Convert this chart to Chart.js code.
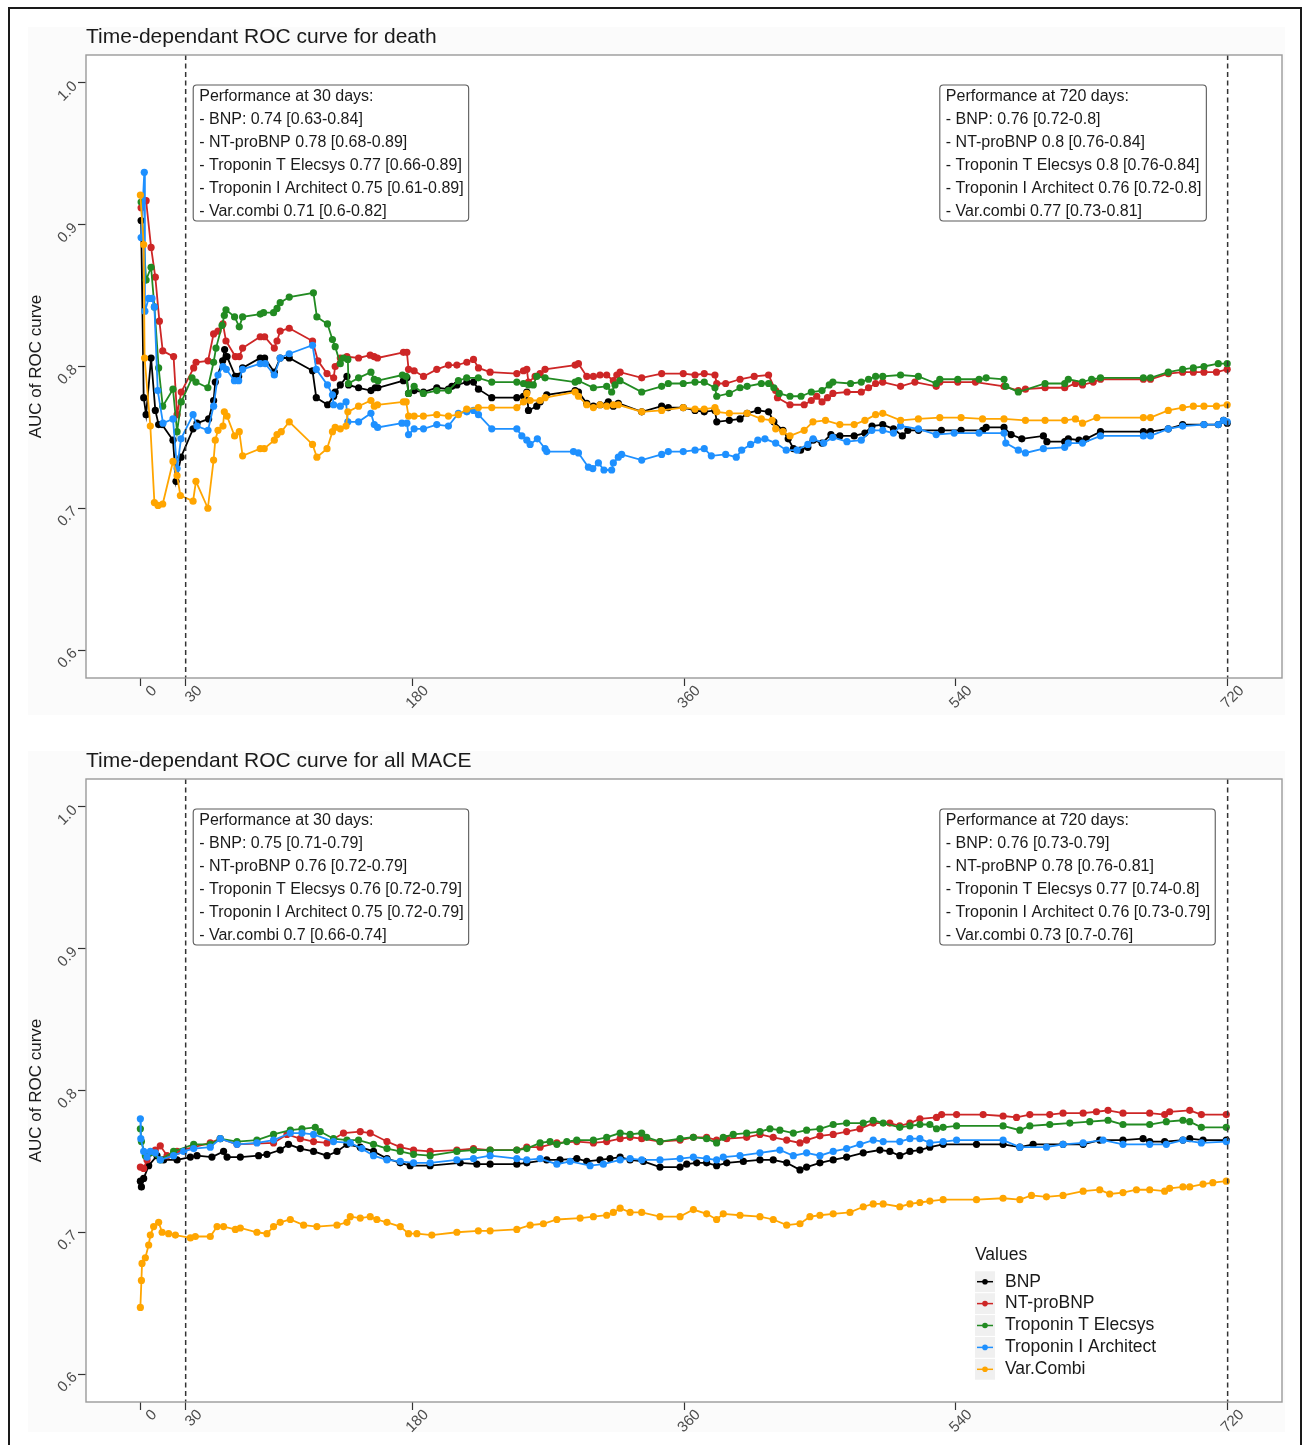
<!DOCTYPE html>
<html><head><meta charset="utf-8">
<script src="https://cdn.jsdelivr.net/npm/chart.js@4.4.1/dist/chart.umd.min.js"></script>
<style>
html,body{margin:0;padding:0;background:#fff;}
body{width:1303px;height:1445px;position:relative;overflow:hidden;font-family:"Liberation Sans",Arial,sans-serif;}
.frame{position:absolute;left:8px;top:7px;width:1294px;height:1470px;border:2px solid #1a1a1a;box-sizing:border-box;}
.bg{position:absolute;left:28px;width:1257px;background:#fbfbfb;}
.wrap{position:absolute;left:0;width:1303px;height:720px;}
canvas{display:block;}
</style></head><body>
<div class="frame"></div>
<div class="bg" style="top:27px;height:688px"></div>
<div class="bg" style="top:751px;height:681px"></div>
<div class="wrap" style="top:0"><canvas id="c1" width="1303" height="720"></canvas></div>
<div class="wrap" style="top:724px"><canvas id="c2" width="1303" height="720"></canvas></div>
<script>
const seriesNames = ["BNP","NT-proBNP","Troponin T Elecsys","Troponin I Architect","Var.Combi"];
const seriesColors = ["#000000","#cd2626","#228b22","#1e90ff","#ffa500"];
const xTickDays = [0,30,180,360,540,720];
const yTickAUC = [0.6,0.7,0.8,0.9,1.0];
const markerDays = [30,720];
const legendTitle = "Values";
const yAxisTitle = "AUC of ROC curve";
const deathTitle = "Time-dependant ROC curve for death";
const maceTitle = "Time-dependant ROC curve for all MACE";

const deathNote30 = ["Performance at 30 days:","- BNP: 0.74 [0.63-0.84]","- NT-proBNP 0.78 [0.68-0.89]","- Troponin T Elecsys 0.77 [0.66-0.89]","- Troponin I Architect 0.75 [0.61-0.89]","- Var.combi 0.71 [0.6-0.82]"];
const deathNote720 = ["Performance at 720 days:","- BNP: 0.76 [0.72-0.8]","- NT-proBNP 0.8 [0.76-0.84]","- Troponin T Elecsys 0.8 [0.76-0.84]","- Troponin I Architect 0.76 [0.72-0.8]","- Var.combi 0.77 [0.73-0.81]"];
const maceNote30 = ["Performance at 30 days:","- BNP: 0.75 [0.71-0.79]","- NT-proBNP 0.76 [0.72-0.79]","- Troponin T Elecsys 0.76 [0.72-0.79]","- Troponin I Architect 0.75 [0.72-0.79]","- Var.combi 0.7 [0.66-0.74]"];
const maceNote720 = ["Performance at 720 days:","- BNP: 0.76 [0.73-0.79]","- NT-proBNP 0.78 [0.76-0.81]","- Troponin T Elecsys 0.77 [0.74-0.8]","- Troponin I Architect 0.76 [0.73-0.79]","- Var.combi 0.73 [0.7-0.76]"];
const noteDays = [35,529.4];

// [day, AUC]
const deathBNP = [[0.5,0.903],[2.2,0.778],[3.8,0.766],[7.1,0.806],[9.9,0.769],[12.1,0.759],[14.4,0.759],[21.6,0.748],[23.6,0.719],[26.9,0.736],[34.9,0.756],[37.5,0.760],[45.2,0.763],[48.5,0.776],[49.6,0.789],[54.5,0.804],[55.8,0.812],[57.4,0.807],[62.9,0.793],[65.1,0.793],[67.7,0.799],[79.4,0.806],[82.3,0.806],[88.7,0.796],[92.6,0.806],[98.6,0.806],[114,0.797],[116.5,0.778],[124,0.773],[128,0.779],[129,0.782],[132.4,0.787],[136.8,0.793],[137.9,0.787],[144.5,0.785],[152.7,0.783],[155.5,0.785],[157.3,0.785],[174.2,0.790],[176.5,0.792],[177.6,0.781],[181.3,0.783],[187.5,0.782],[196.3,0.785],[204,0.784],[206.3,0.786],[209.6,0.787],[216.2,0.789],[220.6,0.789],[223.9,0.784],[232.7,0.778],[249.3,0.778],[253.7,0.779],[255.9,0.782],[257,0.769],[262.5,0.772],[264.7,0.775],[269.1,0.780],[287.9,0.783],[290.1,0.782],[295.6,0.774],[300,0.772],[304.4,0.773],[308.8,0.773],[309.9,0.775],[313.2,0.772],[316.5,0.774],[332,0.768],[345.2,0.772],[349.6,0.771],[359.5,0.771],[367.3,0.769],[373.4,0.768],[380.5,0.769],[381.7,0.761],[390,0.762],[397.1,0.763],[401.8,0.767],[408.9,0.769],[416,0.768],[419.5,0.761],[425.5,0.755],[429,0.749],[432.5,0.742],[437.2,0.741],[442,0.743],[445.5,0.748],[451.4,0.746],[457.3,0.752],[463.2,0.751],[472.7,0.751],[479.8,0.753],[484.5,0.758],[491.6,0.759],[498.7,0.756],[504.6,0.751],[508.2,0.755],[515.3,0.755],[530.5,0.755],[543.5,0.755],[557.8,0.755],[560.1,0.757],[571.9,0.757],[576.6,0.752],[583.7,0.749],[598,0.751],[600.3,0.747],[612.1,0.747],[614.5,0.749],[621.6,0.748],[626.3,0.749],[635.8,0.754],[664.2,0.754],[668.9,0.754],[680.7,0.756],[690.2,0.759],[704.3,0.759],[713.8,0.759],[717.3,0.762],[719.7,0.760]];
const deathNTproBNP = [[0.5,0.912],[3.8,0.917],[7.1,0.884],[9.9,0.863],[12.6,0.832],[14.8,0.811],[22,0.807],[24.3,0.766],[27.1,0.782],[35.3,0.799],[36.9,0.803],[44.8,0.804],[48.5,0.823],[51.4,0.825],[54.7,0.830],[56.7,0.818],[62.9,0.807],[65.5,0.807],[67.7,0.813],[79.4,0.821],[82.3,0.821],[88.7,0.813],[90.5,0.818],[92.6,0.825],[98.6,0.827],[114,0.818],[117.6,0.804],[123.6,0.795],[128,0.792],[129,0.800],[132.4,0.806],[136.8,0.807],[144.5,0.806],[152.2,0.808],[154.8,0.807],[157,0.806],[174.2,0.810],[176.5,0.810],[177.6,0.798],[181.3,0.797],[187.5,0.793],[196.3,0.798],[204,0.801],[209.6,0.801],[216.2,0.803],[220.6,0.805],[223.9,0.799],[231.6,0.796],[249.3,0.795],[253.7,0.797],[255.9,0.798],[257,0.789],[261.4,0.793],[264.7,0.795],[268,0.798],[287.9,0.801],[290.1,0.802],[295.6,0.793],[300,0.793],[304.4,0.794],[308.8,0.794],[313.2,0.790],[315.5,0.794],[317.7,0.796],[332,0.792],[345.2,0.795],[359.5,0.795],[367.3,0.794],[373.4,0.795],[380.5,0.794],[381.7,0.788],[387.6,0.788],[397.1,0.791],[406.5,0.793],[416,0.794],[420.7,0.783],[421.9,0.778],[430.2,0.773],[439.6,0.773],[444.3,0.776],[447.9,0.779],[451.4,0.775],[455,0.778],[458.6,0.781],[468,0.782],[477.4,0.782],[482.2,0.785],[486.9,0.788],[491.6,0.789],[503.4,0.786],[512.9,0.789],[527,0.786],[529.4,0.789],[541.3,0.789],[553,0.789],[571.9,0.786],[581.4,0.783],[586.1,0.784],[599.1,0.785],[612.1,0.785],[619.2,0.788],[623.9,0.787],[631,0.789],[635.8,0.791],[664.2,0.791],[668.9,0.791],[680.7,0.795],[690.2,0.796],[697.3,0.796],[704.3,0.796],[712.6,0.796],[719.7,0.798]];
const deathTnT = [[0.5,0.916],[3.8,0.861],[7.1,0.870],[9.3,0.842],[12.1,0.799],[14.8,0.772],[21.6,0.784],[24.3,0.754],[27.1,0.775],[34.2,0.792],[36.8,0.789],[44.7,0.785],[48.5,0.803],[50.1,0.813],[54.1,0.829],[55.6,0.836],[56.7,0.840],[62.4,0.835],[65.5,0.828],[67.7,0.835],[79.4,0.837],[81.6,0.838],[88.2,0.838],[90.5,0.841],[92.6,0.845],[98.6,0.849],[114.6,0.852],[116.9,0.835],[123.9,0.830],[127.2,0.819],[129,0.814],[132.4,0.802],[134.5,0.806],[137.4,0.805],[137.8,0.788],[144.5,0.792],[152.7,0.796],[154.9,0.791],[157.3,0.790],[173.5,0.794],[176,0.793],[177.6,0.781],[181.3,0.786],[187.4,0.781],[196.3,0.783],[204,0.783],[210.6,0.790],[216.1,0.792],[223.8,0.792],[232.7,0.789],[249.3,0.789],[253.7,0.788],[257,0.787],[260.2,0.787],[262.5,0.793],[268,0.792],[287.9,0.789],[290.1,0.790],[300,0.785],[308.8,0.786],[312.1,0.782],[314.3,0.787],[317.6,0.790],[332,0.782],[345.2,0.786],[349.6,0.788],[359.5,0.788],[367.3,0.789],[373.4,0.789],[380.5,0.785],[381.7,0.779],[390,0.781],[397.1,0.785],[401.8,0.786],[411.2,0.788],[416,0.788],[419.5,0.785],[423.1,0.781],[430.2,0.779],[437.5,0.779],[444.3,0.782],[451.4,0.783],[456.2,0.787],[458.6,0.789],[470.3,0.788],[477.4,0.789],[482.2,0.791],[486.9,0.793],[491.6,0.793],[503.4,0.794],[515.2,0.793],[527,0.788],[529.4,0.791],[541.3,0.791],[555.4,0.791],[560.1,0.792],[571.9,0.791],[573.1,0.786],[581.4,0.782],[599.1,0.788],[612.1,0.788],[614.5,0.791],[623.9,0.789],[629.9,0.791],[635.8,0.792],[664.2,0.792],[668.9,0.792],[680.7,0.796],[690.2,0.798],[697.3,0.799],[704.3,0.800],[713.8,0.802],[719.7,0.802]];
const deathTnI = [[0.5,0.891],[2.6,0.937],[3,0.839],[5.5,0.848],[7.7,0.848],[9.3,0.842],[11.5,0.783],[15,0.760],[21.6,0.763],[24.3,0.728],[26.9,0.749],[34.9,0.766],[37.5,0.758],[44.8,0.755],[48.5,0.772],[51.4,0.794],[54.7,0.800],[56.9,0.798],[62.3,0.790],[65.1,0.790],[67.7,0.798],[79.4,0.802],[82.7,0.802],[88.7,0.794],[92.6,0.806],[98.6,0.809],[114,0.815],[116.5,0.798],[123.9,0.787],[127.2,0.780],[128,0.773],[132.4,0.772],[136.2,0.775],[137.4,0.761],[144.5,0.761],[152.7,0.767],[154.9,0.759],[157.1,0.757],[173.2,0.760],[176.5,0.760],[177.6,0.752],[181.3,0.756],[187.5,0.756],[196.3,0.759],[204,0.758],[210.6,0.767],[216.2,0.768],[220.6,0.769],[223.9,0.766],[232.7,0.756],[249.3,0.756],[252.6,0.751],[255.9,0.748],[258.1,0.745],[262.9,0.749],[268,0.742],[269.1,0.740],[286.8,0.740],[290.1,0.739],[296.7,0.729],[299.6,0.728],[303.3,0.732],[307,0.727],[312.1,0.727],[313.2,0.732],[316.5,0.736],[318.7,0.738],[332,0.734],[345.2,0.738],[349.6,0.740],[359.5,0.740],[367.3,0.741],[373.4,0.742],[378.1,0.737],[387.6,0.738],[394.6,0.736],[398.2,0.741],[404.1,0.745],[408.9,0.748],[413.6,0.749],[420.7,0.746],[427.7,0.741],[434.8,0.741],[442,0.745],[445.5,0.749],[452.5,0.746],[458.5,0.750],[467.9,0.747],[477.4,0.748],[484.4,0.755],[491.6,0.755],[498.7,0.753],[503.4,0.758],[515.2,0.756],[527,0.752],[538.9,0.753],[555.4,0.753],[571.9,0.753],[573.1,0.746],[581.4,0.741],[586.1,0.739],[598,0.742],[612.1,0.743],[614.5,0.746],[623.9,0.746],[635.8,0.751],[664.2,0.751],[668.9,0.751],[680.7,0.756],[690.2,0.758],[704.3,0.759],[713.8,0.759],[717.3,0.762],[719.7,0.761]];
const deathCombi = [[0,0.921],[2.2,0.886],[2.8,0.806],[6.6,0.758],[9.3,0.704],[11.7,0.702],[14.8,0.703],[21.6,0.733],[24.3,0.723],[26.5,0.709],[34.9,0.705],[36.8,0.719],[44.7,0.700],[48.5,0.734],[49.6,0.748],[51.4,0.755],[54.7,0.758],[55.6,0.768],[57.4,0.765],[62.4,0.751],[65.5,0.754],[67.7,0.737],[79.4,0.742],[82,0.742],[88.7,0.748],[90.5,0.752],[93.3,0.754],[98.6,0.761],[114,0.745],[116.9,0.736],[123.6,0.742],[127.2,0.754],[129,0.757],[132.4,0.756],[136.2,0.758],[137.4,0.768],[144.5,0.772],[152.7,0.776],[154.9,0.772],[157,0.773],[174.2,0.775],[176,0.775],[177.6,0.765],[181.3,0.765],[187.4,0.765],[196.3,0.766],[204,0.765],[210.6,0.766],[216.1,0.770],[223.8,0.771],[232.7,0.771],[249.3,0.771],[253.7,0.775],[255.9,0.781],[258.1,0.776],[264.7,0.776],[268,0.778],[287.9,0.782],[290.1,0.779],[295.6,0.773],[300,0.771],[304.4,0.773],[308.8,0.772],[313.2,0.773],[316.5,0.773],[332,0.768],[345.2,0.769],[359.5,0.771],[367.3,0.770],[373.4,0.770],[380.5,0.771],[381.7,0.768],[390,0.767],[401.8,0.767],[411.2,0.763],[418.3,0.762],[420.7,0.756],[425.5,0.754],[430.2,0.751],[439.6,0.755],[445.4,0.761],[453.7,0.762],[463.2,0.759],[472.7,0.759],[479.8,0.762],[486.9,0.766],[491.6,0.767],[503.4,0.762],[515.2,0.763],[529.4,0.764],[543.5,0.764],[557.7,0.763],[571.9,0.763],[586.1,0.762],[599.1,0.762],[612.1,0.762],[619.2,0.763],[623.9,0.760],[633.4,0.764],[664.2,0.764],[668.9,0.764],[680.7,0.769],[690.2,0.771],[697.3,0.772],[704.3,0.772],[712.6,0.772],[719.7,0.773]];

const maceBNP = [[0,0.736],[0.7,0.732],[2.2,0.738],[5.5,0.747],[11,0.754],[15.4,0.751],[24.3,0.751],[33.1,0.753],[37.5,0.754],[47.4,0.753],[55.1,0.757],[57.4,0.753],[66.2,0.753],[78.3,0.754],[83.8,0.755],[92.6,0.758],[98.1,0.762],[105.9,0.759],[114.7,0.757],[123.6,0.754],[130.2,0.757],[136.8,0.762],[145.6,0.760],[154.4,0.757],[163.3,0.752],[172.1,0.749],[178.7,0.747],[191.9,0.747],[211.8,0.749],[222.8,0.748],[231.6,0.748],[249.3,0.748],[255.9,0.749],[269.1,0.751],[277.9,0.751],[289,0.752],[295.6,0.750],[304.4,0.751],[311,0.752],[317.7,0.753],[324.3,0.751],[333.1,0.750],[344.1,0.746],[357.4,0.746],[361.8,0.748],[368.4,0.749],[375,0.749],[381.6,0.747],[388.3,0.749],[399.3,0.750],[410.3,0.751],[419.1,0.751],[428,0.749],[436.8,0.744],[441.2,0.746],[450,0.749],[458.8,0.751],[467.7,0.753],[478.7,0.756],[489.7,0.758],[496.3,0.757],[502.9,0.754],[509.6,0.757],[516.2,0.758],[522.8,0.760],[531.6,0.762],[553.7,0.762],[571.3,0.762],[582.4,0.760],[591.2,0.762],[611,0.762],[624.3,0.762],[635.3,0.765],[650.7,0.765],[664,0.766],[668.4,0.764],[678.3,0.764],[690.4,0.765],[694.9,0.766],[703.7,0.765],[719.1,0.765]];
const maceNTproBNP = [[0,0.746],[2.2,0.745],[4.4,0.751],[9.9,0.758],[13.2,0.761],[17.7,0.754],[24.3,0.757],[35.3,0.760],[46.3,0.763],[52.9,0.766],[64,0.762],[88.2,0.763],[97.1,0.769],[105.9,0.766],[114.7,0.764],[123.6,0.763],[134.5,0.770],[145.6,0.771],[152.2,0.770],[163.3,0.764],[172.1,0.760],[180.9,0.758],[191.9,0.757],[209.6,0.758],[220.6,0.759],[231.6,0.758],[249.3,0.758],[255.9,0.760],[264.7,0.760],[275.8,0.763],[289,0.764],[300,0.763],[308.8,0.764],[317.7,0.766],[324.3,0.767],[332,0.766],[344.1,0.764],[357.4,0.765],[366.2,0.767],[375,0.767],[381.6,0.765],[388.3,0.766],[401.5,0.767],[410.3,0.769],[419.1,0.767],[428,0.765],[436.8,0.763],[441.2,0.765],[450,0.768],[458.8,0.769],[467.7,0.771],[476.5,0.773],[485.3,0.777],[496.3,0.777],[502.9,0.775],[509.6,0.777],[516.2,0.780],[527.2,0.781],[530.6,0.783],[540.5,0.783],[558.1,0.783],[571.3,0.782],[580.2,0.781],[589,0.783],[602.2,0.783],[611,0.784],[624.3,0.784],[633.1,0.785],[640.8,0.786],[650.7,0.784],[668.4,0.784],[678.3,0.783],[681.6,0.785],[694.9,0.786],[702.6,0.783],[719.1,0.783]];
const maceTnT = [[0,0.773],[0.7,0.764],[3.3,0.754],[6.6,0.756],[13.2,0.751],[22,0.757],[35.3,0.762],[46.3,0.762],[52.9,0.766],[64,0.764],[77.2,0.765],[88.2,0.769],[99.3,0.772],[107,0.773],[115.8,0.774],[119.1,0.771],[127.9,0.766],[136.8,0.765],[144.5,0.765],[154.4,0.762],[163.3,0.759],[172.1,0.757],[180.9,0.755],[191.9,0.754],[209.6,0.757],[220.6,0.758],[231.6,0.758],[249.3,0.758],[255.9,0.759],[264.7,0.763],[271.3,0.764],[275.8,0.762],[282.4,0.764],[289,0.765],[300,0.765],[308.8,0.767],[317.7,0.770],[324.3,0.769],[332,0.770],[335.3,0.767],[344.1,0.764],[357.4,0.766],[366.2,0.767],[375,0.766],[381.6,0.763],[386,0.767],[392.6,0.769],[401.5,0.770],[410.3,0.771],[416.9,0.773],[423.5,0.772],[432.4,0.770],[441.2,0.772],[450,0.773],[458.8,0.776],[467.7,0.777],[478.7,0.777],[485.3,0.779],[491.9,0.777],[502.9,0.774],[509.6,0.775],[516.2,0.776],[522.8,0.776],[527.2,0.773],[531.6,0.774],[540.5,0.775],[571.3,0.775],[582.4,0.772],[589,0.775],[602.2,0.776],[615.5,0.777],[628.7,0.778],[640.8,0.779],[650.7,0.776],[668.4,0.776],[679.4,0.778],[690.4,0.779],[694.9,0.778],[702.6,0.774],[719.1,0.774]];
const maceTnI = [[0,0.780],[0.3,0.766],[2.2,0.757],[4.4,0.753],[6.6,0.757],[9.9,0.756],[13.2,0.751],[22,0.754],[28.7,0.757],[35.3,0.759],[46.3,0.760],[52.9,0.766],[64,0.762],[77.2,0.763],[88.2,0.765],[99.3,0.770],[107,0.770],[114.7,0.769],[127.9,0.764],[139,0.763],[146.7,0.759],[154.4,0.754],[163.3,0.751],[172.1,0.750],[180.9,0.749],[191.9,0.749],[209.6,0.751],[220.6,0.752],[231.6,0.754],[249.3,0.752],[255.9,0.751],[264.7,0.752],[275.8,0.748],[284.6,0.750],[297.8,0.747],[306.6,0.748],[317.7,0.751],[324.3,0.752],[332,0.751],[344.1,0.751],[357.4,0.752],[366.2,0.753],[375,0.752],[381.6,0.751],[386,0.753],[397.1,0.754],[410.3,0.756],[423.5,0.758],[432.4,0.754],[441.2,0.756],[450,0.754],[458.8,0.757],[467.7,0.759],[476.5,0.762],[485.3,0.765],[491.9,0.764],[502.9,0.764],[509.6,0.766],[516.2,0.766],[522.8,0.763],[531.6,0.764],[540.5,0.765],[571.3,0.765],[582.4,0.760],[600,0.760],[611,0.762],[624.3,0.763],[637.5,0.765],[650.7,0.762],[668.4,0.762],[679.4,0.762],[690.4,0.765],[702.6,0.763],[719.1,0.764]];
const maceCombi = [[0,0.647],[0.7,0.666],[1.1,0.678],[3.3,0.682],[5.5,0.691],[6.6,0.698],[8.8,0.704],[12.1,0.707],[14.4,0.700],[18.7,0.699],[23.2,0.698],[33.1,0.696],[36.4,0.697],[46.3,0.697],[50.8,0.704],[55.1,0.704],[62.9,0.702],[66.2,0.703],[77.2,0.700],[83.8,0.699],[88.2,0.704],[92.6,0.707],[99.3,0.709],[108.1,0.705],[116.9,0.704],[130.2,0.705],[136.8,0.707],[139,0.711],[145.6,0.710],[152.2,0.711],[156.6,0.709],[163.3,0.707],[172.1,0.704],[177.6,0.699],[183.1,0.699],[193,0.698],[209.6,0.700],[223.8,0.701],[231.6,0.701],[249.3,0.702],[258.1,0.705],[266.9,0.706],[275.8,0.709],[291.2,0.710],[300,0.711],[308.8,0.712],[313.2,0.714],[317.7,0.717],[324.3,0.714],[332,0.714],[344.1,0.711],[357.4,0.711],[366.2,0.716],[375,0.713],[381.6,0.709],[386,0.713],[397.1,0.712],[410.3,0.711],[419.1,0.709],[428,0.705],[436.8,0.706],[443.4,0.711],[450,0.712],[458.8,0.713],[469.9,0.714],[478.7,0.718],[485.3,0.720],[491.9,0.720],[502.9,0.718],[509.6,0.720],[516.2,0.721],[522.8,0.722],[531.6,0.723],[553.7,0.723],[571.3,0.724],[582.4,0.723],[590.1,0.726],[600,0.725],[611,0.726],[624.3,0.729],[635.3,0.730],[641.9,0.727],[650.7,0.728],[659.6,0.730],[668.4,0.730],[678.3,0.729],[681.6,0.731],[690.4,0.732],[694.9,0.732],[703.7,0.734],[710.2,0.735],[719.1,0.736]];

const FONT = '"Liberation Sans", Arial, Helvetica, sans-serif';
Chart.defaults.font.family = FONT;

function drawNote(ctx, left, top, lines) {
  ctx.save();
  ctx.font = '16px ' + FONT;
  const w = Math.max(...lines.map(l => ctx.measureText(l).width)) + 11;
  const h = 136, r = 3.5;
  ctx.beginPath();
  ctx.moveTo(left + r, top);
  ctx.lineTo(left + w - r, top); ctx.arcTo(left + w, top, left + w, top + r, r);
  ctx.lineTo(left + w, top + h - r); ctx.arcTo(left + w, top + h, left + w - r, top + h, r);
  ctx.lineTo(left + r, top + h); ctx.arcTo(left, top + h, left, top + h - r, r);
  ctx.lineTo(left, top + r); ctx.arcTo(left, top, left + r, top, r);
  ctx.closePath();
  ctx.fillStyle = '#ffffff'; ctx.fill();
  ctx.strokeStyle = '#5a5a5a'; ctx.lineWidth = 1.1; ctx.stroke();
  ctx.fillStyle = '#1a1a1a'; ctx.textBaseline = 'middle'; ctx.textAlign = 'left';
  lines.forEach((l, i) => ctx.fillText(l, left + 6, top + 11.5 + 23 * i));
  ctx.restore();
}

function drawLegend(ctx, a) {
  ctx.save();
  const lx = a.right - 307;
  ctx.font = '17.5px ' + FONT;
  ctx.fillStyle = '#1a1a1a'; ctx.textBaseline = 'middle'; ctx.textAlign = 'left';
  ctx.fillText(legendTitle, lx, a.bottom - 147);
  seriesNames.forEach((name, i) => {
    const cy = a.bottom - 120.3 + 21.9 * i;
    ctx.fillStyle = '#f0f0f0';
    ctx.fillRect(lx, cy - 10.4, 20, 20.8);
    ctx.strokeStyle = seriesColors[i]; ctx.lineWidth = 1.5;
    ctx.beginPath(); ctx.moveTo(lx + 2, cy); ctx.lineTo(lx + 18, cy); ctx.stroke();
    ctx.fillStyle = seriesColors[i];
    ctx.beginPath(); ctx.arc(lx + 10, cy, 2.8, 0, Math.PI * 2); ctx.fill();
    ctx.fillStyle = '#1a1a1a';
    ctx.fillText(name, lx + 30, cy);
  });
  ctx.restore();
}

function panelPlugin(title, notes, showLegend) {
  return {
    id: 'panel',
    beforeDraw(chart) {
      const {ctx, chartArea: a} = chart;
      ctx.save(); ctx.fillStyle = '#ffffff';
      ctx.fillRect(a.left, a.top, a.right - a.left, a.bottom - a.top);
      ctx.restore();
    },
    afterDatasetsDraw(chart) {
      const {ctx, chartArea: a, scales: {x, y}} = chart;
      ctx.save();
      ctx.strokeStyle = '#333333'; ctx.lineWidth = 1.5; ctx.setLineDash([5, 3.5]);
      markerDays.forEach(d => {
        const px = x.getPixelForValue(d);
        ctx.beginPath(); ctx.moveTo(px, a.top); ctx.lineTo(px, a.bottom); ctx.stroke();
      });
      ctx.setLineDash([]);
      ctx.strokeStyle = '#9a9a9a'; ctx.lineWidth = 1.4;
      ctx.strokeRect(a.left, a.top, a.right - a.left, a.bottom - a.top);
      ctx.fillStyle = '#1a1a1a'; ctx.font = '21px ' + FONT;
      ctx.textBaseline = 'middle'; ctx.textAlign = 'left';
      ctx.fillText(title, a.left, 37);
      ctx.restore();
      const top = y.getPixelForValue(yTickAUC[yTickAUC.length - 1]) + 2;
      notes.forEach((lines, i) => drawNote(ctx, x.getPixelForValue(noteDays[i]), top, lines));
      if (showLegend) drawLegend(ctx, a);
    }
  };
}

function makeChart(id, title, series, notes, showLegend) {
  const gridOpts = {drawOnChartArea: false, drawTicks: true, tickLength: 8, tickColor: '#333333', tickWidth: 1.2};
  return new Chart(document.getElementById(id), {
    type: 'line',
    data: {
      datasets: series.map((s, i) => ({
        label: seriesNames[i],
        data: s.map(p => ({x: p[0], y: p[1]})),
        borderColor: seriesColors[i],
        backgroundColor: seriesColors[i],
        pointBackgroundColor: seriesColors[i],
        pointBorderWidth: 0,
        pointRadius: 3.6,
        borderWidth: 1.8,
        tension: 0,
        order: series.length - i
      }))
    },
    options: {
      responsive: false, animation: false, devicePixelRatio: 1, events: [],
      layout: {padding: {left: 0, top: 55, right: 21, bottom: 0}},
      plugins: {legend: {display: false}, tooltip: {enabled: false}, title: {display: false}},
      scales: {
        x: {
          type: 'linear', min: -36, max: 756,
          afterBuildTicks: sc => { sc.ticks = xTickDays.map(v => ({value: v})); },
          afterFit: sc => { sc.height = 42; },
          grid: gridOpts, border: {display: false},
          ticks: {autoSkip: false, minRotation: 45, maxRotation: 45, padding: -4, labelOffset: 14,
                  color: '#4d4d4d', font: {size: 15}, callback: v => String(v)}
        },
        y: {
          type: 'linear', min: 0.58025, max: 1.01975,
          afterBuildTicks: sc => { sc.ticks = yTickAUC.map(v => ({value: v})); },
          afterFit: sc => { sc.width = 86; },
          grid: gridOpts, border: {display: false},
          ticks: {autoSkip: false, minRotation: 45, maxRotation: 45, padding: 3, labelOffset: 1,
                  color: '#4d4d4d', font: {size: 15}, callback: v => Number(v).toFixed(1)},
          title: {display: true, text: yAxisTitle, color: '#1a1a1a', font: {size: 17}, padding: {top: 26, bottom: 0}}
        }
      }
    },
    plugins: [panelPlugin(title, notes, showLegend)]
  });
}

makeChart('c1', deathTitle, [deathBNP, deathNTproBNP, deathTnT, deathTnI, deathCombi], [deathNote30, deathNote720], false);
makeChart('c2', maceTitle, [maceBNP, maceNTproBNP, maceTnT, maceTnI, maceCombi], [maceNote30, maceNote720], true);
</script>
</body></html>
